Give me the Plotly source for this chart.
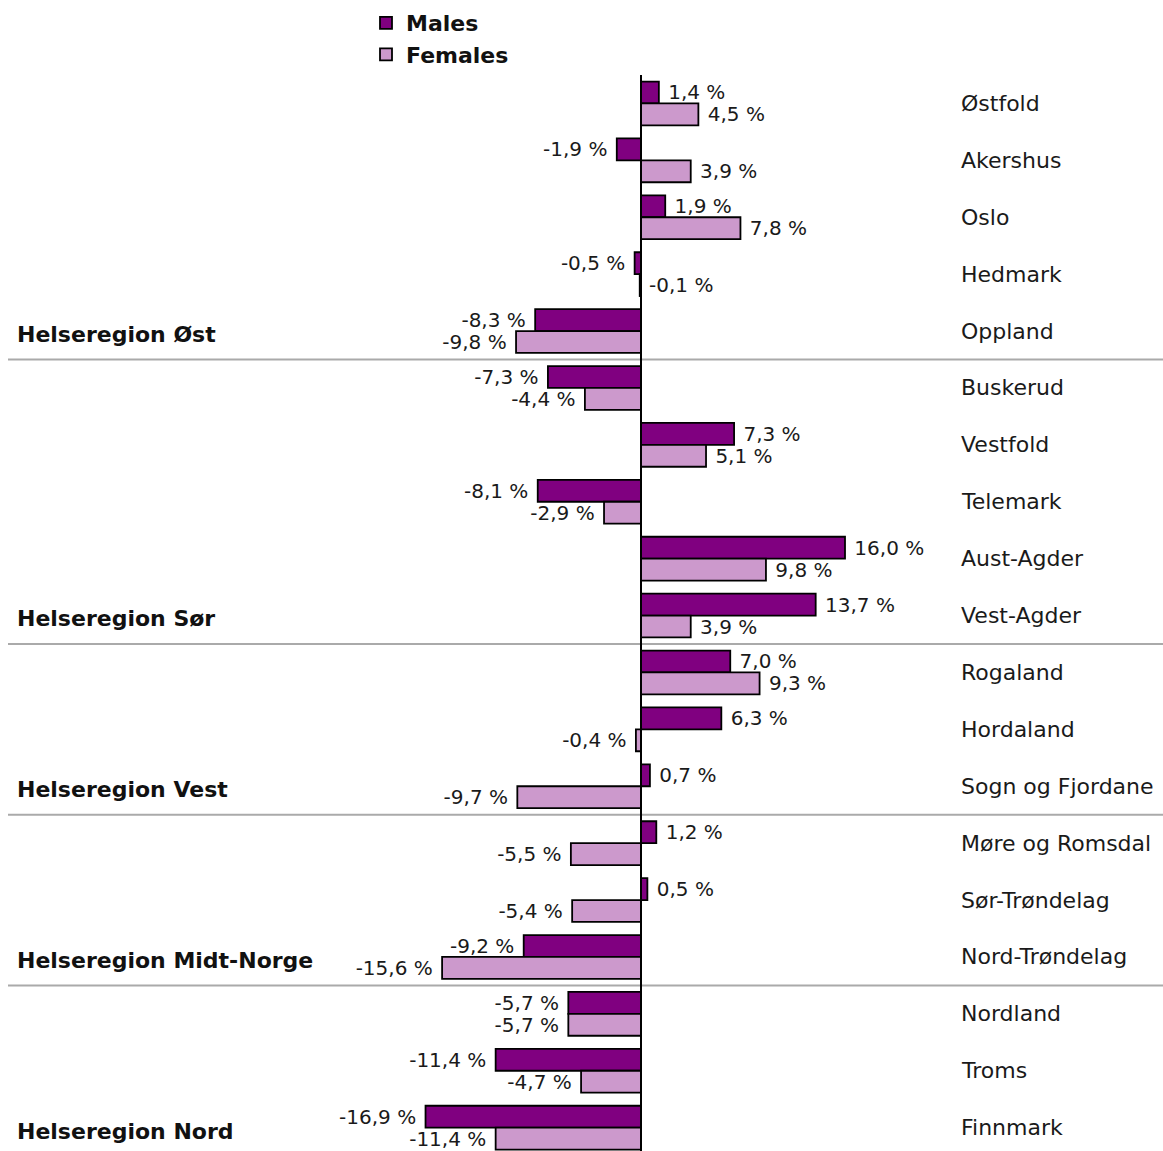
import plotly.graph_objects as go

# Counties, top to bottom
counties = [
    "Østfold", "Akershus", "Oslo", "Hedmark", "Oppland",
    "Buskerud", "Vestfold", "Telemark", "Aust-Agder", "Vest-Agder",
    "Rogaland", "Hordaland", "Sogn og Fjordane",
    "Møre og Romsdal", "Sør-Trøndelag", "Nord-Trøndelag",
    "Nordland", "Troms", "Finnmark",
]

# Percentage change per county
males = [1.4, -1.9, 1.9, -0.5, -8.3,
         -7.3, 7.3, -8.1, 16.0, 13.7,
         7.0, 6.3, 0.7,
         1.2, 0.5, -9.2,
         -5.7, -11.4, -16.9]
females = [4.5, 3.9, 7.8, -0.1, -9.8,
           -4.4, 5.1, -2.9, 9.8, 3.9,
           9.3, -0.4, -9.7,
           -5.5, -5.4, -15.6,
           -5.7, -4.7, -11.4]

# Health regions and the index of the last county in each
regions = ["Helseregion Øst", "Helseregion Sør", "Helseregion Vest",
           "Helseregion Midt-Norge", "Helseregion Nord"]
region_last = [4, 9, 12, 15, 18]

FONT = "DejaVu Sans"
FS = 22          # county, region and legend text
FS_VAL = 20      # value labels beside the bars
W, H = 1163, 1151
TOP = 75
MALE_COL = "#800080"
FEMALE_COL = "#CC99CC"
TEXT_COL = "#1a1a1a"

def fmt(v):
    return f"{v:.1f}".replace(".", ",") + " %"

def bar_label(v):
    # a little breathing room between bar end and label
    return " " + fmt(v) if v >= 0 else fmt(v) + " "

ypos = list(range(len(counties)))

# Tiny bars get their label placed right of the axis instead
TINY = 0.2
male_text = [bar_label(v) for v in males]
female_text = [bar_label(v) if abs(v) >= TINY else "" for v in females]

fig = go.Figure()
fig.add_trace(go.Bar(
    name="Males", y=ypos, x=males, orientation="h",
    marker=dict(color=MALE_COL, line=dict(color="black", width=1.8)),
    text=male_text, textposition="outside", cliponaxis=False,
    textfont=dict(family=FONT, size=FS_VAL, color=TEXT_COL),
    constraintext="none",
))
fig.add_trace(go.Bar(
    name="Females", y=ypos, x=females, orientation="h",
    marker=dict(color=FEMALE_COL, line=dict(color="black", width=1.8)),
    text=female_text, textposition="outside", cliponaxis=False,
    textfont=dict(family=FONT, size=FS_VAL, color=TEXT_COL),
    constraintext="none",
))

annotations = []
shapes = []

# Labels for near-zero bars
for i, v in enumerate(females):
    if abs(v) < TINY:
        annotations.append(dict(
            x=0, y=i + 0.19, xref="x", yref="y", text=fmt(v), showarrow=False,
            xanchor="left", yanchor="middle", xshift=6,
            font=dict(family=FONT, size=FS_VAL, color=TEXT_COL),
        ))

# County names on the right
for i, c in enumerate(counties):
    annotations.append(dict(
        x=959 / W, y=i, xref="paper", yref="y", text=c, showarrow=False,
        xanchor="left", yanchor="middle",
        font=dict(family=FONT, size=FS, color=TEXT_COL),
    ))

# Region names and separators
for r, last in zip(regions, region_last):
    annotations.append(dict(
        x=15 / W, y=last + 0.06, xref="paper", yref="y", text=f"<b>{r}</b>",
        showarrow=False, xanchor="left", yanchor="middle",
        font=dict(family=FONT, size=FS, color="#111"),
    ))
    if last != region_last[-1]:
        shapes.append(dict(
            type="line", xref="paper", yref="y", x0=8 / W, x1=1,
            y0=last + 0.5, y1=last + 0.5,
            line=dict(color="#aaaaaa", width=2), layer="below",
        ))

# Vertical axis line at zero
shapes.append(dict(
    type="line", xref="x", yref="paper", x0=0, x1=0, y0=0, y1=1.0,
    line=dict(color="black", width=2), layer="above",
))

px_per_pct = 12.75
x0 = -641 / px_per_pct
x1 = x0 + W / px_per_pct

plot_h = H - TOP
row_px = 56.9
span = plot_h / row_px

fig.update_layout(
    width=W, height=H,
    margin=dict(l=0, r=0, t=TOP, b=0),
    paper_bgcolor="white", plot_bgcolor="white",
    barmode="group", bargap=0.23, bargroupgap=0,
    xaxis=dict(range=[x0, x1], visible=False, fixedrange=True),
    yaxis=dict(range=[-0.5 + span, -0.5], visible=False, fixedrange=True),
    showlegend=True,
    legend=dict(
        x=366 / W, y=(H - 2) / plot_h, xanchor="left", yanchor="top",
        bgcolor="rgba(0,0,0,0)", traceorder="normal",
        font=dict(family=FONT, size=FS, color="#111", weight="bold"),
        itemwidth=30, tracegroupgap=0,
    ),
    annotations=annotations,
    shapes=shapes,
    font=dict(family=FONT),
)

fig.write_html("out.html")
